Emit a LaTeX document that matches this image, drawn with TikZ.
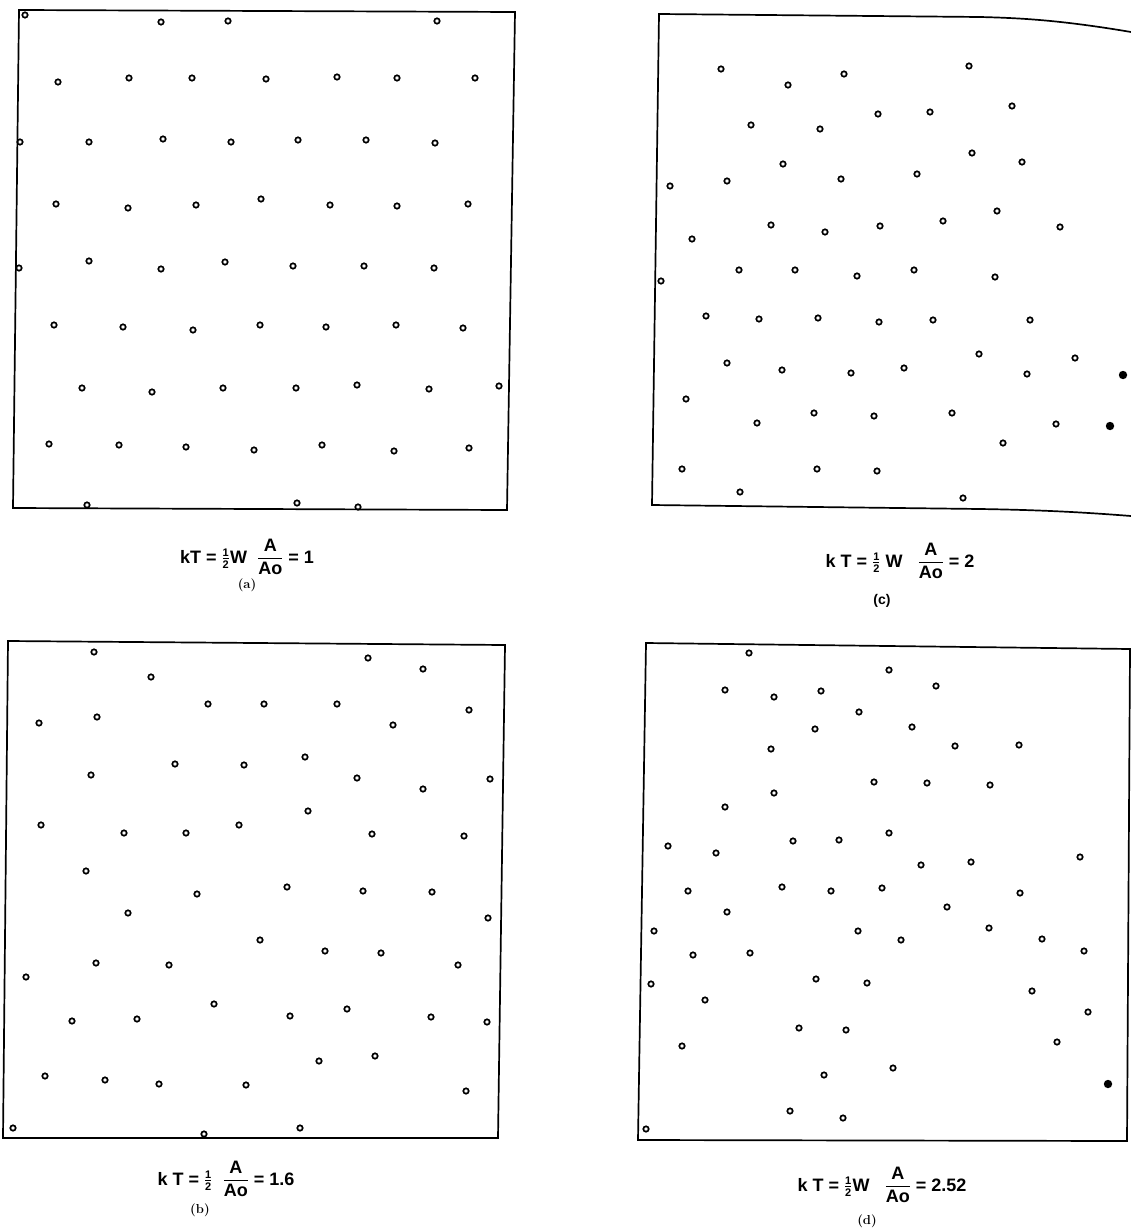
\documentclass[tikz,border=0pt]{standalone}
\usepackage{amsmath}
\usepackage{fontspec}
\setsansfont{Liberation Sans}
\usepackage{tikz}
\usetikzlibrary{positioning}

% stacked fractions in the lettering font
\newcommand{\stk}[2]{\ensuremath{\genfrac{}{}{1pt}{0}{\text{#1}}{\text{#2}}}}
\newcommand{\hlf}{\ensuremath{\genfrac{}{}{0.8pt}{}{\text{\fontsize{11}{11}\selectfont 1}}{\text{\fontsize{11}{11}\selectfont 2}}}}

\begin{document}
\begin{tikzpicture}[
    x=1pt, y=-1pt,
    frame/.style={line width=1.7pt, line join=miter},
    dot/.style={draw, line width=1.7pt},
    bigdot/.style={fill=black},
    formula/.style={font=\sffamily\bfseries\fontsize{18}{21}\selectfont, inner sep=0pt},
    tag/.style={font=\bfseries\fontsize{13}{15}\selectfont, inner sep=0pt},
    tagsf/.style={font=\sffamily\bfseries\fontsize{14}{16}\selectfont, inner sep=0pt}
]
\useasboundingbox (0,0) rectangle (1131,1231);

% panel (a)
\draw[frame] (19,10) -- (515,12) -- (507,510) -- (13,508) -- cycle;
\foreach \x/\y in {25/15,161/22,228/21,437/21,
    58/82,129/78,192/78,266/79,337/77,397/78,475/78,
    20/142,89/142,163/139,231/142,298/140,366/140,435/143,
    56/204,128/208,196/205,261/199,330/205,397/206,468/204,
    19/268,89/261,161/269,225/262,293/266,364/266,434/268,
    54/325,123/327,193/330,260/325,326/327,396/325,463/328,
    82/388,152/392,223/388,296/388,357/385,429/389,499/386,
    49/444,119/445,186/447,254/450,322/445,394/451,469/448,
    87/505,297/503,358/507}
  \draw[dot] (\x,\y) circle[radius=2.7pt];

% panel (c)
\draw[frame] (1131,32) .. controls (1060,20) and (1020,18) .. (980,17)
    -- (659,14) -- (652,505) -- (980,509)
    .. controls (1040,510) and (1080,512) .. (1131,516);
\foreach \x/\y in {721/69,788/85,844/74,969/66,
    751/125,820/129,878/114,930/112,1012/106,
    783/164,841/179,917/174,972/153,1022/162,
    670/186,727/181,771/225,825/232,880/226,943/221,997/211,1060/227,
    692/239,739/270,795/270,857/276,914/270,995/277,661/281,
    706/316,759/319,818/318,879/322,933/320,1030/320,
    727/363,782/370,851/373,904/368,979/354,1027/374,1075/358,
    686/399,757/423,814/413,874/416,952/413,1056/424,1003/443,
    682/469,817/469,877/471,740/492,963/498}
  \draw[dot] (\x,\y) circle[radius=2.7pt];
\fill[bigdot] (1123,375) circle[radius=4.2pt];
\fill[bigdot] (1110,426) circle[radius=4.2pt];

% panel (b)
\draw[frame] (8,641) -- (505,645) -- (498,1138) -- (3,1138) -- cycle;
\foreach \x/\y in {94/652,151/677,368/658,423/669,
    39/723,97/717,208/704,264/704,337/704,393/725,469/710,
    91/775,175/764,244/765,305/757,357/778,423/789,490/779,
    41/825,124/833,186/833,239/825,308/811,372/834,464/836,
    86/871,197/894,287/887,363/891,432/892,128/913,488/918,
    260/940,325/951,381/953,96/963,169/965,458/965,26/977,
    214/1004,347/1009,290/1016,72/1021,137/1019,431/1017,487/1022,
    319/1061,375/1056,45/1076,105/1080,159/1084,246/1085,466/1091,
    13/1128,204/1134,300/1128}
  \draw[dot] (\x,\y) circle[radius=2.7pt];

% panel (d)
\draw[frame] (646,643) -- (1130,649) -- (1127,1141) -- (638,1140) -- cycle;
\foreach \x/\y in {749/653,889/670,725/690,774/697,821/691,936/686,
    859/712,815/729,912/727,771/749,955/746,1019/745,
    874/782,927/783,990/785,774/793,725/807,
    668/846,716/853,793/841,839/840,889/833,921/865,971/862,1080/857,
    688/891,782/887,831/891,882/888,1020/893,727/912,947/907,
    654/931,858/931,901/940,989/928,1042/939,1084/951,693/955,750/953,
    651/984,816/979,867/983,1032/991,705/1000,1088/1012,
    799/1028,846/1030,1057/1042,682/1046,824/1075,893/1068,
    790/1111,843/1118,646/1129}
  \draw[dot] (\x,\y) circle[radius=2.7pt];
\fill[bigdot] (1108,1084) circle[radius=4.2pt];

% captions
\node[formula] (capA) at (247,557) {kT = \hlf W \ \stk{A}{Ao} = 1};
\node[tag] (tagA) at (247,585) {(a)};
\node[formula] (capC) at (900,561) {k T = \hlf\ W \ \ \stk{A}{Ao} = 2};
\node[tagsf] (tagC) at (882,601) {(c)};
\node[formula] (capB) at (226,1179) {k T = \hlf\ \ \stk{A}{Ao} = 1.6};
\node[tag] (tagB) at (200,1210) {(b)};
\node[formula] (capD) at (882,1185) {k T = \hlf W \ \ \stk{A}{Ao} = 2.52};
\node[tag] (tagD) at (867,1221) {(d)};

\end{tikzpicture}
\end{document}
